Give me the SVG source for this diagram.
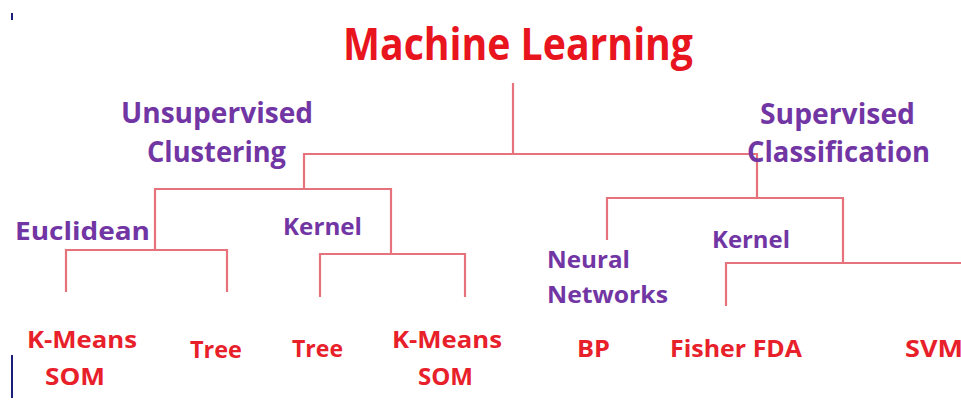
<svg xmlns="http://www.w3.org/2000/svg" width="961" height="403" viewBox="0 0 961 403">
  <style>
    text { font-family: "Open Sans", "Liberation Sans", Arial, sans-serif; font-weight: bold; }
    .root { fill: #e8141e; font-size: 45px; }
    .cat { fill: #7236a4; font-size: 28px; }
    .sub { fill: #7236a4; font-size: 24px; }
    .leaf { fill: #e8202a; font-size: 23px; }
    .link { fill: none; stroke: #e6737b; stroke-width: 2.2; }
    .mark { stroke: #1a1f7a; stroke-width: 2; }
  </style>
  <rect width="961" height="403" fill="#ffffff"/>

  <!-- small margin marks -->
  <line class="mark" x1="12" y1="13" x2="12" y2="20"/>
  <line class="mark" x1="12" y1="355" x2="12" y2="398"/>

  <!-- tree connectors -->
  <g id="connectors">
    <path class="link" d="M513 83 V154"/>
    <path class="link" d="M304 188 V154 H757 V198"/>
    <!-- unsupervised branch -->
    <path class="link" d="M155 250 V189 H391 V254"/>
    <path class="link" d="M66 292 V250 H227 V292"/>
    <path class="link" d="M320 297 V254 H465 V297"/>
    <!-- supervised branch -->
    <path class="link" d="M607 240 V198 H843 V263"/>
    <path class="link" d="M726 306 V263 H961"/>
  </g>

  <g id="machine-learning">
    <text class="root" x="343" y="60" textLength="350" lengthAdjust="spacingAndGlyphs">Machine Learning</text>
  </g>
  <g id="unsupervised">
    <text class="cat" x="121" y="123" textLength="192" lengthAdjust="spacingAndGlyphs">Unsupervised</text>
    <text class="cat" x="147" y="162" textLength="139" lengthAdjust="spacingAndGlyphs">Clustering</text>
  </g>
  <g id="supervised">
    <text class="cat" x="760" y="124" textLength="155" lengthAdjust="spacingAndGlyphs">Supervised</text>
    <text class="cat" x="747" y="162" textLength="183" lengthAdjust="spacingAndGlyphs">Classification</text>
  </g>
  <g id="euclidean">
    <text class="sub" x="15" y="240" textLength="135" lengthAdjust="spacingAndGlyphs" style="font-size:25px">Euclidean</text>
  </g>
  <g id="kernel-unsupervised">
    <text class="sub" x="283" y="235" textLength="79" lengthAdjust="spacingAndGlyphs">Kernel</text>
  </g>
  <g id="neural-networks">
    <text class="sub" x="547" y="268" textLength="83" lengthAdjust="spacingAndGlyphs">Neural</text>
    <text class="sub" x="547" y="303" textLength="121" lengthAdjust="spacingAndGlyphs">Networks</text>
  </g>
  <g id="kernel-supervised">
    <text class="sub" x="712" y="248" textLength="78" lengthAdjust="spacingAndGlyphs">Kernel</text>
  </g>

  <g id="kmeans-som-euclidean">
    <text class="leaf" x="27" y="348" textLength="110" lengthAdjust="spacingAndGlyphs">K-Means</text>
    <text class="leaf" x="45" y="385" textLength="60" lengthAdjust="spacingAndGlyphs">SOM</text>
  </g>
  <g id="tree-euclidean">
    <text class="leaf" x="190" y="358" textLength="52" lengthAdjust="spacingAndGlyphs">Tree</text>
  </g>
  <g id="tree-kernel">
    <text class="leaf" x="292" y="357" textLength="51" lengthAdjust="spacingAndGlyphs">Tree</text>
  </g>
  <g id="kmeans-som-kernel">
    <text class="leaf" x="392" y="348" textLength="110" lengthAdjust="spacingAndGlyphs">K-Means</text>
    <text class="leaf" x="418" y="385" textLength="55" lengthAdjust="spacingAndGlyphs">SOM</text>
  </g>
  <g id="bp">
    <text class="leaf" x="577" y="357" textLength="33" lengthAdjust="spacingAndGlyphs">BP</text>
  </g>
  <g id="fisher-fda">
    <text class="leaf" x="670" y="357" textLength="132" lengthAdjust="spacingAndGlyphs">Fisher FDA</text>
  </g>
  <g id="svm">
    <text class="leaf" x="905" y="357" textLength="58" lengthAdjust="spacingAndGlyphs">SVM</text>
  </g>
</svg>
